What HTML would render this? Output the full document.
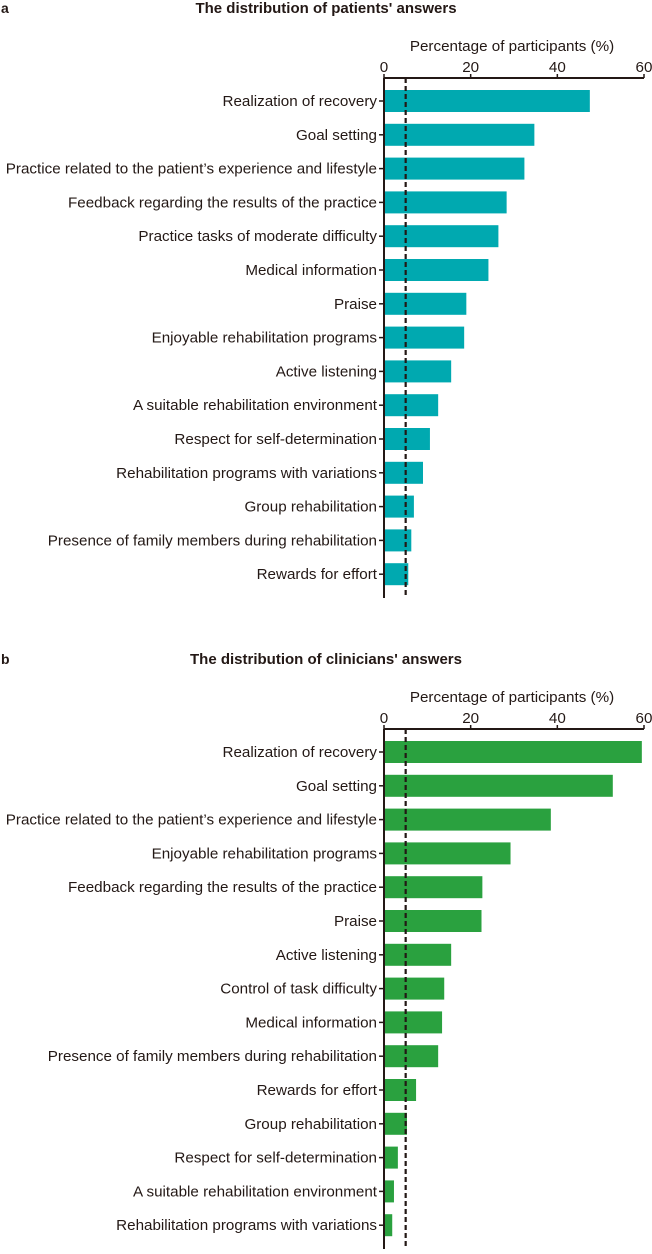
<!DOCTYPE html>
<html><head><meta charset="utf-8"><style>
body{margin:0;background:#fff;width:652px;height:1249px;overflow:hidden;font-family:"Liberation Sans",Arial,sans-serif}
</style></head><body>
<svg id="s" width="652" height="1249" xmlns="http://www.w3.org/2000/svg"></svg>
<script>
const catsA=["Realization of recovery","Goal setting","Practice related to the patient’s experience and lifestyle","Feedback regarding the results of the practice","Practice tasks of moderate difficulty","Medical information","Praise","Enjoyable rehabilitation programs","Active listening","A suitable rehabilitation environment","Respect for self-determination","Rehabilitation programs with variations","Group rehabilitation","Presence of family members during rehabilitation","Rewards for effort"];
const valsA=[47.5,34.7,32.4,28.3,26.4,24.1,19.0,18.5,15.5,12.5,10.6,9.0,6.9,6.3,5.6];
const catsB=["Realization of recovery","Goal setting","Practice related to the patient’s experience and lifestyle","Enjoyable rehabilitation programs","Feedback regarding the results of the practice","Praise","Active listening","Control of task difficulty","Medical information","Presence of family members during rehabilitation","Rewards for effort","Group rehabilitation","Respect for self-determination","A suitable rehabilitation environment","Rehabilitation programs with variations"];
const valsB=[59.5,52.8,38.5,29.2,22.7,22.5,15.5,13.9,13.4,12.5,7.4,5.3,3.2,2.3,1.9];
const ticks=[0,20,40,60];
const refLine=5;
const svg=document.getElementById('s');
const NS="http://www.w3.org/2000/svg";
const ink="#231815";
function el(t,a,p){const e=document.createElementNS(NS,t);for(const k in a)e.setAttribute(k,a[k]);(p||svg).appendChild(e);return e;}
const x=v=>384+v*(644-384)/60;
function chart(off,letter,title,cats,vals,color,key){
  const g=el('g',{});
  
  
  let t=el('text',{x:1,y:off+13,'font-size':14,'font-weight':'bold',fill:ink},g);t.textContent=letter;
  
  t=el('text',{x:326,y:off+13,'font-size':15,'font-weight':'bold',fill:ink,'text-anchor':'middle'},g);t.textContent=title;
  
  const ax=off+78;
  t=el('text',{x:512,y:off+51,'font-size':15.2,fill:ink,'text-anchor':'middle'},g);t.textContent="Percentage of participants (%)";
  
  ticks.forEach(v=>{
    const l=el('line',{x1:x(v),x2:x(v),y1:ax,y2:ax-4,stroke:ink,'stroke-width':1.5},g);
    
    const tt=el('text',{x:x(v),y:ax-6,'font-size':15.2,fill:ink,'text-anchor':'middle'},g);tt.textContent=v;
    
  });
  cats.forEach((c,i)=>{
    const cy=off+101+i*33.8;
    const r=el('rect',{x:x(0),y:cy-11,width:x(vals[i])-x(0),height:22,fill:color},g);
    
    const l=el('line',{x1:x(0)-5,x2:x(0),y1:cy,y2:cy,stroke:ink,'stroke-width':1.5},g);
    
    const tt=el('text',{x:x(0)-7,y:cy+5,'font-size':15.2,fill:ink,'text-anchor':'end'},g);tt.textContent=c;
    
  });
  let a=el('line',{x1:x(0),x2:x(60),y1:ax,y2:ax,stroke:ink,'stroke-width':2},g);
  
  a=el('line',{x1:x(0),x2:x(0),y1:ax,y2:off+598,stroke:ink,'stroke-width':2},g);
  
  a=el('line',{x1:x(refLine),x2:x(refLine),y1:ax,y2:off+598,stroke:ink,'stroke-width':2.2,'stroke-dasharray':'5,3'},g);
  
}
chart(0,"a","The distribution of patients' answers",catsA,valsA,"#00a9b0","patients");
chart(651,"b","The distribution of clinicians' answers",catsB,valsB,"#2aa13f","clinicians");
</script>
</body></html>
